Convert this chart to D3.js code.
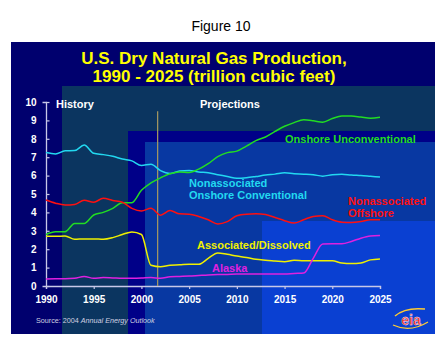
<!DOCTYPE html>
<html><head><meta charset="utf-8">
<script src="https://cdn.jsdelivr.net/npm/d3@7"></script>
<style>html,body{margin:0;padding:0;background:#fff;}svg{display:block;}</style>
</head><body>
<script>
const years = d3.range(1990, 2026);
const naOnshoreConv = [7.25,7.18,7.35,7.36,7.66,7.21,7.14,7.05,6.9,6.8,6.55,6.62,6.27,6.12,6.25,6.28,6.2,6.15,6.05,5.95,5.85,5.88,5.95,6.03,6.08,6.15,6.1,6.08,6.05,5.97,6.05,6.08,6.03,6.0,5.96,5.92];
const onshoreUnconv = [2.8,2.95,2.95,3.4,3.4,3.86,4.0,4.22,4.52,4.53,5.2,5.6,5.88,6.1,6.2,6.17,6.35,6.65,7.03,7.25,7.33,7.6,7.9,8.1,8.4,8.68,8.88,9.03,8.98,8.9,9.1,9.24,9.24,9.18,9.12,9.17];
const naOffshore = [4.67,4.5,4.4,4.43,4.66,4.55,4.77,4.65,4.55,4.22,4.08,4.22,3.85,4.1,3.92,3.9,3.78,3.6,3.37,3.5,3.82,3.9,3.92,3.88,3.72,3.55,3.42,3.6,3.78,3.82,3.6,3.47,3.45,3.5,3.6,3.6];
const assocDissolved = [2.7,2.7,2.72,2.54,2.56,2.56,2.54,2.63,2.8,2.94,2.8,1.13,1.05,1.13,1.15,1.18,1.18,1.5,1.8,1.72,1.63,1.55,1.45,1.4,1.36,1.32,1.4,1.37,1.37,1.37,1.37,1.25,1.22,1.25,1.42,1.47];
const alaska = [0.38,0.4,0.4,0.42,0.52,0.42,0.46,0.44,0.42,0.42,0.43,0.46,0.42,0.5,0.52,0.54,0.57,0.6,0.62,0.63,0.65,0.65,0.65,0.65,0.65,0.65,0.68,0.7,1.5,2.28,2.3,2.3,2.42,2.6,2.72,2.75];
const xTicks = [1990,1995,2000,2005,2010,2015,2020,2025];
const yTicks = [0,1,2,3,4,5,6,7,8,9,10];
const projectionStart = 2001.7;
const seriesNames = ["Nonassociated Onshore Conventional","Onshore Unconventional","Nonassociated Offshore","Associated/Dissolved","Alaska"];
const seriesColors = ["#22d8f0","#22dd22","#ff1010","#f0f000","#e020e0"];

const W = 442, H = 344;
const svg = d3.select("body").append("svg").attr("width", W).attr("height", H);
const F = "Arial, 'Liberation Sans', sans-serif";

// caption
svg.append("text").attr("x", 221).attr("y", 31).attr("text-anchor","middle")
  .attr("font-family", F).attr("font-size", 14).attr("fill","#000").text("Figure 10");

// backgrounds (panel layout)
svg.append("rect").attr("x",11).attr("y",42).attr("width",424).attr("height",292).attr("fill","#00006e");
svg.append("rect").attr("x",62).attr("y",86).attr("width",373).attr("height",248).attr("fill","#0b3560");
svg.append("rect").attr("x",128).attr("y",131).attr("width",307).attr("height",203).attr("fill","#000088");
svg.append("rect").attr("x",145).attr("y",142).attr("width",290).attr("height",192).attr("fill","#0838a2");
svg.append("rect").attr("x",262).attr("y",221).attr("width",173).attr("height",113).attr("fill","#0a40d2");

// title
const title = svg.append("text").attr("text-anchor","middle").attr("font-family",F)
  .attr("font-weight","bold").attr("font-size",17).attr("fill","#ffff00");
title.append("tspan").attr("x",214).attr("y",64).text("U.S. Dry Natural Gas Production,");
title.append("tspan").attr("x",214).attr("y",82).text("1990 - 2025 (trillion cubic feet)");

const x = d3.scaleLinear().domain([1990,2025]).range([46,380]);
const y = d3.scaleLinear().domain([0,10]).range([286,102]);

// axes
const yAxis = svg.append("g").attr("transform","translate(46,0)")
  .call(d3.axisLeft(y).tickValues(yTicks).tickSize(3.5).tickPadding(6).tickFormat(d3.format("d")));
const xAxis = svg.append("g").attr("transform","translate(0,286)")
  .call(d3.axisBottom(x).tickValues(xTicks).tickSize(3).tickPadding(7).tickFormat(d3.format("d")));
[yAxis, xAxis].forEach(g => {
  g.select(".domain").attr("stroke","#c8c8e8").attr("stroke-width",1.3);
  g.selectAll(".tick line").attr("stroke","#c8c8e8").attr("stroke-width",1.2);
  g.selectAll(".tick text").attr("fill","#fff").attr("font-family",F).attr("font-weight","bold").attr("font-size",10);
});
yAxis.selectAll(".tick line").attr("x2",3.5);

// projection divider
svg.append("line").attr("x1",x(projectionStart)).attr("x2",x(projectionStart))
  .attr("y1",y(9.5)).attr("y2",y(0)).attr("stroke","#a89a60").attr("stroke-width",1.2);

// lines
const allSeries = [naOnshoreConv, onshoreUnconv, naOffshore, assocDissolved, alaska];
const line = d3.line().x((d,i)=>x(years[i])).y(d=>y(d)).curve(d3.curveMonotoneX);
allSeries.forEach((s,i)=>{
  svg.append("path").datum(s).attr("d",line).attr("fill","none")
    .attr("stroke",seriesColors[i]).attr("stroke-width",1.5).attr("stroke-linejoin","round");
});

// section labels
svg.append("text").attr("x",56).attr("y",108).attr("font-family",F).attr("font-weight","bold")
  .attr("font-size",11).attr("fill","#fff").text("History");
svg.append("text").attr("x",200).attr("y",108).attr("font-family",F).attr("font-weight","bold")
  .attr("font-size",11).attr("fill","#fff").text("Projections");

// series labels
function label(lines, xx, yy, color){
  const t = svg.append("text").attr("font-family",F).attr("font-weight","bold").attr("font-size",11).attr("fill",color);
  lines.forEach((l,k)=>t.append("tspan").attr("x",xx).attr("y",yy+k*12).text(l));
}
label(["Onshore Unconventional"], 285, 143, seriesColors[1]);
label(["Nonassociated","Onshore Conventional"], 189, 187, seriesColors[0]);
label(["Nonassociated","Offshore"], 348, 204.5, seriesColors[2]);
label(["Associated/Dissolved"], 197, 249, seriesColors[3]);
label(["Alaska"], 212, 272, seriesColors[4]);

// source
const src = svg.append("text").attr("x",36).attr("y",323).attr("font-family",F)
  .attr("font-size",7.2).attr("fill","#d0d0e0");
src.append("tspan").text("Source: 2004 ");
src.append("tspan").attr("font-style","italic").text("Annual Energy Outlook");

// logo
const logo = svg.append("g");
logo.append("path").attr("d","M395,316 Q405,307 425,309").attr("fill","none").attr("stroke","#ffcc33").attr("stroke-width",1.5);
logo.append("path").attr("d","M393,325 Q410,333 428,322").attr("fill","none").attr("stroke","#ffcc33").attr("stroke-width",1.2);
logo.append("text").attr("x",411).attr("y",325).attr("text-anchor","middle").attr("font-family",F)
  .attr("font-weight","bold").attr("font-size",14).attr("fill","#ee2222")
  .attr("stroke","#ffffff").attr("stroke-width",0.4).text("eia");
</script>
</body></html>
